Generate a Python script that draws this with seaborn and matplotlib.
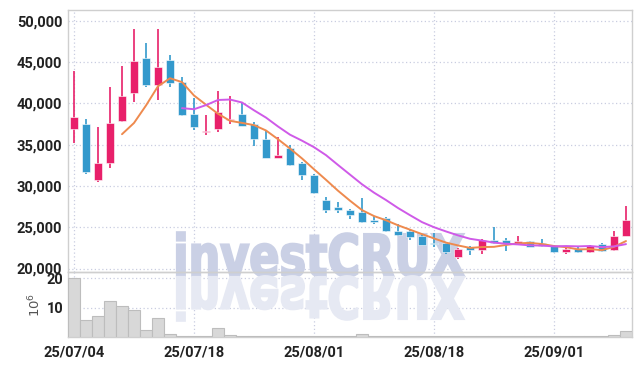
import seaborn as sns
import pandas as pd
import numpy as np
import matplotlib
matplotlib.use('Agg')
import matplotlib.pyplot as plt
from matplotlib.textpath import TextPath
from matplotlib.patches import PathPatch
from matplotlib.font_manager import FontProperties
from matplotlib.transforms import Affine2D, IdentityTransform

# daily prices (KRW)
opens = [36900, 37500, 30700, 32800, 37900, 41300, 45500, 42250, 45300, 42650,
         38750, 36600, 36950, 38050, 38750, 37500, 35700, 33450, 34600, 32750,
         31350, 28300, 27400, 27100, 26800, 25900, 26100, 24600, 24500, 24000,
         23150, 23100, 21450, 22550, 22300, 23500, 23500, 23100, 23300, 23100,
         22750, 21950, 22400, 21950, 23000, 22200, 24000]
highs = [43900, 38100, 37100, 42000, 44500, 49000, 47300, 49000, 45900, 43200,
         40700, 38550, 41550, 40950, 40000, 37750, 36800, 35900, 35000, 32900,
         31500, 28700, 28100, 27250, 28550, 26400, 26200, 25400, 24700, 24100,
         24300, 23250, 22450, 22750, 23550, 25000, 23650, 23900, 23350, 23600,
         22800, 22450, 22700, 22900, 23050, 24500, 27600]
lows = [35200, 31500, 30500, 32200, 37800, 40200, 42000, 40400, 42000, 38500,
        36800, 36200, 36600, 37550, 37250, 34800, 33400, 33400, 32450, 30750,
        29050, 26700, 26700, 26050, 25550, 25400, 24450, 24000, 23500, 22850,
        22650, 21800, 21150, 21700, 21750, 23000, 22150, 23050, 22550, 22600,
        21900, 21800, 21900, 21900, 22050, 22100, 23900]
closes = [38400, 31700, 32800, 37600, 40900, 45200, 42300, 44450, 42450, 38550,
          37100, 36700, 39000, 38150, 37300, 35750, 33450, 33700, 32500, 31300,
          29200, 27050, 27100, 26450, 25600, 25600, 24500, 24050, 23800, 22900,
          23000, 21950, 22350, 22300, 23400, 23150, 23100, 23300, 22600, 22700,
          21950, 22400, 21950, 22750, 22100, 23950, 25900]
# volume in millions of shares
volumes = [20.2, 5.9, 7.1, 12.2, 10.5, 9.1, 2.3, 6.6, 0.9, 0.5,
           0.5, 0.5, 2.9, 0.6, 0.3, 0.3, 0.2, 0.2, 0.2, 0.2,
           0.3, 0.4, 0.3, 0.2, 0.9, 0.3, 0.3, 0.2, 0.2, 0.4,
           0.3, 0.2, 0.2, 0.2, 0.2, 0.4, 0.2, 0.2, 0.2, 0.2,
           0.2, 0.2, 0.2, 0.2, 0.3, 0.6, 1.9]

# trading days (Aug 15 is a holiday)
dates = pd.bdate_range('2025-07-04', '2025-09-09')
dates = dates[dates != pd.Timestamp('2025-08-15')]
tick_dates = ['2025-07-04', '2025-07-18', '2025-08-01', '2025-08-18', '2025-09-01']

df = pd.DataFrame({'Open': opens, 'High': highs, 'Low': lows, 'Close': closes,
                   'Volume': volumes})
df['idx'] = np.arange(len(df))
df['MA5'] = df['Close'].rolling(5).mean()
df['MA10'] = df['Close'].rolling(10).mean()

up_color = '#e8206a'
down_color = '#3399cc'
grid_color = '#c9cde0'
spine_color = '#cfcfcf'

sns.set_theme(style='white')
plt.rcParams['font.family'] = ['Roboto', 'DejaVu Sans']

W, H = 642, 366
fig = plt.figure(figsize=(W / 100, H / 100), dpi=100)
ax = fig.add_axes([68 / W, 1 - 272 / H, 564 / W, 262 / H])
axv = fig.add_axes([68 / W, 1 - 337 / H, 564 / W, 65 / H])
axv.set_facecolor('none')

# candles
up = df['Close'] >= df['Open']
colors = np.where(up, up_color, down_color)
ax.vlines(df['idx'], df['Low'], df['High'], colors=colors, lw=1.2, zorder=3)
body_lo = df[['Open', 'Close']].min(axis=1)
body_h = (df['Close'] - df['Open']).abs().clip(lower=60)
ax.bar(df['idx'], body_h, bottom=body_lo, width=0.68, color=colors,
       edgecolor='white', linewidth=0.4, zorder=4)

# moving averages
sns.lineplot(data=df, x='idx', y='MA5', color='#ee8a4e', lw=1.4, ax=ax, zorder=5)
sns.lineplot(data=df, x='idx', y='MA10', color='#cf5ae8', lw=1.4, ax=ax, zorder=5)

# volume
sns.barplot(data=df, x='idx', y='Volume', color='#d8d8d8', edgecolor='#bdbdbd',
            linewidth=0.8, width=1.0, saturation=1, ax=axv, zorder=3)

tick_pos = [list(dates).index(pd.Timestamp(d)) for d in tick_dates]
tick_lab = [pd.Timestamp(d).strftime('%y/%m/%d') for d in tick_dates]

for a in (ax, axv):
    a.set_xlim(-0.5, 46.5)
    a.set_xticks(tick_pos)
    a.grid(True, color=grid_color, linestyle=(0, (1, 2)), lw=0.9)
    for s in a.spines.values():
        s.set_color(spine_color)
        s.set_linewidth(1.0)
    a.set_xlabel('')
    a.set_ylabel('')

ax.set_ylim(19580, 51330)
ax.set_yticks(range(20000, 50001, 5000))
ax.set_yticklabels([f'{v:,}' for v in range(20000, 50001, 5000)])
ax.tick_params(axis='x', labelbottom=False, length=0)
ax.tick_params(axis='y', length=0, pad=4, labelsize=10.5, labelcolor='#222222')
for t in ax.get_yticklabels():
    t.set_fontweight('bold')

axv.set_ylim(0, 22.1)
axv.set_yticks([10, 20])
axv.set_xticklabels(tick_lab)
axv.tick_params(axis='both', length=0, labelsize=10.5, labelcolor='#222222')
axv.tick_params(axis='x', pad=6)
for t in axv.get_yticklabels() + axv.get_xticklabels():
    t.set_fontweight('bold')
axv.set_ylabel(r'$10^6$', family='DejaVu Serif', fontsize=9.5, color='#555555',
               labelpad=2)

# watermark with reflection
tp = TextPath((0, 0), 'investCRUX', size=100,
              prop=FontProperties(family='DejaVu Sans', weight='bold'))
bb = tp.get_extents()
sx = 287 / bb.width
sy = 42 / 73.0
base = H - 276
tr_main = Affine2D().translate(-bb.x0, 0).scale(sx, sy).translate(177, base)
tr_ref = Affine2D().translate(-bb.x0, 0).scale(sx, -sy).translate(177, base - 1)
ax.add_patch(PathPatch(tr_main.transform_path(tp), transform=IdentityTransform(),
                       facecolor='#cad0e5', edgecolor='#cad0e5', lw=1.6,
                       clip_on=False, zorder=1))
axv.add_patch(PathPatch(tr_ref.transform_path(tp), transform=IdentityTransform(),
                        facecolor='#e6e9f3', edgecolor='#e6e9f3', lw=1.6,
                        clip_on=False, zorder=1))

fig.savefig('out.png', dpi=100)
